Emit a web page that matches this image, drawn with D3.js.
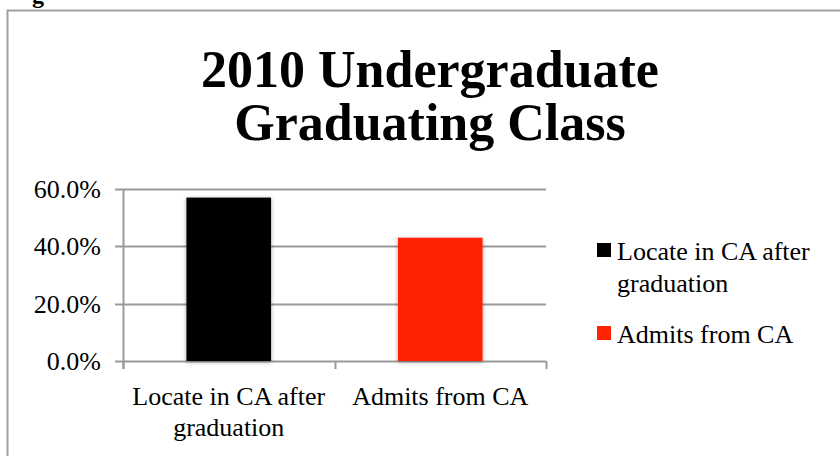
<!DOCTYPE html>
<html>
<head>
<meta charset="utf-8">
<script src="https://cdn.jsdelivr.net/npm/d3@7"></script>
<style>
  body { margin: 0; background: #fff; }
  text { font-family: "Liberation Serif", "DejaVu Serif", serif; fill: #000; }
</style>
</head>
<body>
<div id="chart"></div>
<script>
// data
const categories = ['Locate in CA after graduation', 'Admits from CA'];
const values = [0.57, 0.43];
const colors = ['#000000', '#ff2200'];
const yTicks = [0, 0.2, 0.4, 0.6];
const titleLines = ['2010 Undergraduate', 'Graduating Class'];

const W = 840, H = 456;
const FS = 26;

let svg = d3.select('#chart')
  .append('svg')
  .attr('width', W)
  .attr('height', H);

// chart frame (cut off on right / bottom)
svg.append('rect')
  .attr('x', 7.5)
  .attr('y', 10.5)
  .attr('width', 900)
  .attr('height', 600)
  .attr('fill', 'none')
  .attr('stroke', '#a0a0a0')
  .attr('stroke-width', 2);

// bit of the caption above the frame
svg.append('text')
  .attr('x', 32)
  .attr('y', 3)
  .attr('font-size', 24)
  .attr('font-weight', 'bold')
  .text('g');

// title
svg.append('g')
  .selectAll('text')
  .data(titleLines)
  .enter()
  .append('text')
  .attr('x', 430)
  .attr('y', (d, i) => 87 + i * 53)
  .attr('text-anchor', 'middle')
  .attr('font-size', 52)
  .attr('font-weight', 'bold')
  .text(d => d);

let x = d3.scaleBand()
  .domain(categories)
  .range([123, 546])
  .paddingInner(0.6)
  .paddingOuter(0.3);

let y = d3.scaleLinear()
  .domain([0, 0.6])
  .range([361, 189]);

let plot = svg.append('g');

// gridlines
plot.selectAll('line.grid')
  .data(yTicks)
  .enter()
  .append('line')
  .attr('class', 'grid')
  .attr('x1', 115)
  .attr('x2', 546)
  .attr('y1', d => Math.round(y(d)) + 0.5)
  .attr('y2', d => Math.round(y(d)) + 0.5)
  .attr('stroke', '#9a9a9a')
  .attr('stroke-width', 2);

// y axis line
plot.append('line')
  .attr('x1', 123.5).attr('x2', 123.5)
  .attr('y1', y(0.6)).attr('y2', 369)
  .attr('stroke', '#9a9a9a')
  .attr('stroke-width', 2);

// x ticks at category boundaries
let xBounds = [123, 546].concat(categories.slice(1).map(c => x(c) - x.step() * x.paddingInner() / 2));
plot.selectAll('line.xtick')
  .data(xBounds)
  .enter()
  .append('line')
  .attr('class', 'xtick')
  .attr('x1', d => Math.round(d) + 0.5)
  .attr('x2', d => Math.round(d) + 0.5)
  .attr('y1', y(0))
  .attr('y2', 369)
  .attr('stroke', '#9a9a9a')
  .attr('stroke-width', 2);

// y tick labels
plot.selectAll('text.ylab')
  .data(yTicks)
  .enter()
  .append('text')
  .attr('class', 'ylab')
  .attr('x', 101)
  .attr('y', d => y(d) + 9)
  .attr('text-anchor', 'end')
  .attr('font-size', FS)
  .text(d => d3.format('.1%')(d));

// bar shadow
let defs = svg.append('defs');
let f = defs.append('filter').attr('id', 'shadow')
  .attr('x', '-20%').attr('y', '-20%').attr('width', '140%').attr('height', '140%');
f.append('feDropShadow')
  .attr('dx', 0).attr('dy', 1)
  .attr('stdDeviation', 2)
  .attr('flood-color', '#000')
  .attr('flood-opacity', 0.35);

plot.selectAll('rect.bar')
  .data(values)
  .enter()
  .append('rect')
  .attr('class', 'bar')
  .attr('x', (d, i) => x(categories[i]))
  .attr('y', d => y(d))
  .attr('width', x.bandwidth())
  .attr('height', d => y(0) - y(d))
  .attr('fill', (d, i) => colors[i])
  .attr('filter', 'url(#shadow)');

// category labels (wrapped)
let catLines = [['Locate in CA after', 'graduation'], ['Admits from CA']];
categories.forEach(function(c, i) {
  let t = plot.append('text')
    .attr('text-anchor', 'middle')
    .attr('font-size', FS);
  catLines[i].forEach(function(line, j) {
    t.append('tspan')
      .attr('x', x(c) + x.bandwidth() / 2)
      .attr('y', 405 + j * 31)
      .text(line);
  });
});

// legend
let legend = svg.append('g');
let legendLines = [['Locate in CA after', 'graduation'], ['Admits from CA']];
let legendY = [243, 326];
categories.forEach(function(c, i) {
  legend.append('rect')
    .attr('x', 597)
    .attr('y', legendY[i])
    .attr('width', 14)
    .attr('height', 14)
    .attr('fill', colors[i]);
  let t = legend.append('text').attr('font-size', FS);
  legendLines[i].forEach(function(line, j) {
    t.append('tspan')
      .attr('x', 617)
      .attr('y', legendY[i] + 17 + j * 32)
      .text(line);
  });
});
</script>
</body>
</html>
